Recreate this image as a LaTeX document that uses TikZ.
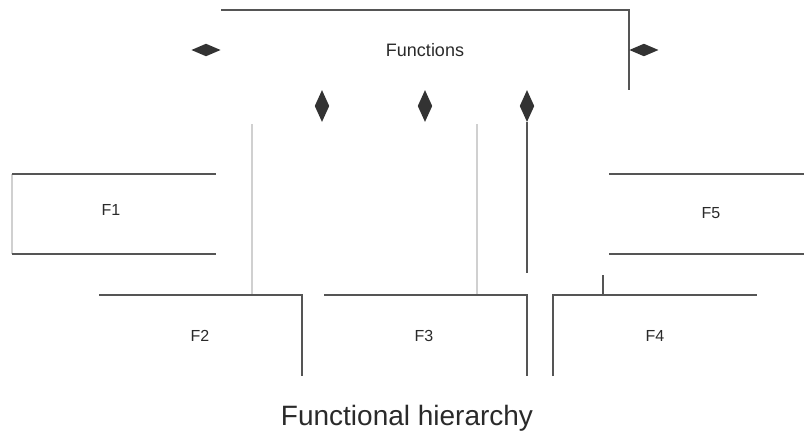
\documentclass[tikz,border=0pt]{standalone}
\usepackage{fontspec}
\setmainfont{Liberation Sans}
\usetikzlibrary{shapes.geometric}
\definecolor{lineg}{HTML}{555555}
\definecolor{lightg}{HTML}{D0D0D0}
\definecolor{dfill}{HTML}{333333}
\definecolor{txt}{HTML}{2A2A2A}
\tikzset{
  dark/.style={draw=lineg, line width=1.5pt},
  light/.style={draw=lightg, line width=0.8pt},
  hdia/.style={diamond, fill=dfill, inner sep=0pt, minimum width=22pt, minimum height=9.5pt},
  vdia/.style={diamond, fill=dfill, inner sep=0pt, minimum width=11pt, minimum height=24pt},
  lbl/.style={text=txt, inner sep=0pt, font=\fontsize{12}{14}\selectfont},
}
\begin{document}
\begin{tikzpicture}[x=0.75pt, y=-0.75pt]
\useasboundingbox (0,0) rectangle (804,432);
% top frame
\coordinate (t1) at (221,10);
\coordinate (t2) at (629,10);
\coordinate (t3) at (629,90);
\draw[dark] (t1) -- (t2) -- (t3);
\node[text=txt, font=\fontsize{13.5}{16}\selectfont, inner sep=0pt] (functions) at (425,50) {Functions};
% diamonds
\node[hdia] (dl) at (206,50) {};
\node[hdia, anchor=west] (dr) at (629,50) {};
\node[vdia] (d1) at (322,106) {};
\node[vdia] (d2) at (425,106) {};
\node[vdia] (d3) at (527,106) {};
\coordinate (d3end) at (527,273);
\draw[dark] (d3.south) -- (d3end);
% light lines
\coordinate (l1a) at (252,124); \coordinate (l1b) at (252,295);
\coordinate (l2a) at (477,124); \coordinate (l2b) at (477,295);
\draw[light] (l1a) -- (l1b);
\draw[light] (l2a) -- (l2b);
% F1
\coordinate (f1a) at (12,174); \coordinate (f1b) at (216,174);
\coordinate (f1c) at (12,254); \coordinate (f1d) at (216,254);
\draw[light] (f1a) -- (f1c);
\draw[dark] (f1a) -- (f1b);
\draw[dark] (f1c) -- (f1d);
\node[lbl] (F1) at (111,210) {F1};
% F5
\coordinate (f5a) at (609,174); \coordinate (f5b) at (804,174);
\coordinate (f5c) at (609,254); \coordinate (f5d) at (804,254);
\draw[dark] (f5a) -- (f5b);
\draw[dark] (f5c) -- (f5d);
\node[lbl] (F5) at (711,213) {F5};
% F2
\coordinate (f2a) at (99,295); \coordinate (f2b) at (302,295); \coordinate (f2c) at (302,376);
\draw[dark] (f2a) -- (f2b) -- (f2c);
\node[lbl] (F2) at (200,336) {F2};
% F3
\coordinate (f3a) at (324,295); \coordinate (f3b) at (527,295); \coordinate (f3c) at (527,376);
\draw[dark] (f3a) -- (f3b) -- (f3c);
\node[lbl] (F3) at (424,336) {F3};
% F4
\coordinate (f4a) at (553,376); \coordinate (f4b) at (553,295); \coordinate (f4c) at (757,295);
\draw[dark] (f4a) -- (f4b) -- (f4c);
\coordinate (tk1) at (603,275); \coordinate (tk2) at (603,295);
\draw[dark] (tk1) -- (tk2);
\node[lbl] (F4) at (655,336) {F4};
% title
\node[text=txt, font=\fontsize{21}{24}\selectfont, inner sep=0pt] (title) at (407,418) {Functional hierarchy};
\end{tikzpicture}
\end{document}
